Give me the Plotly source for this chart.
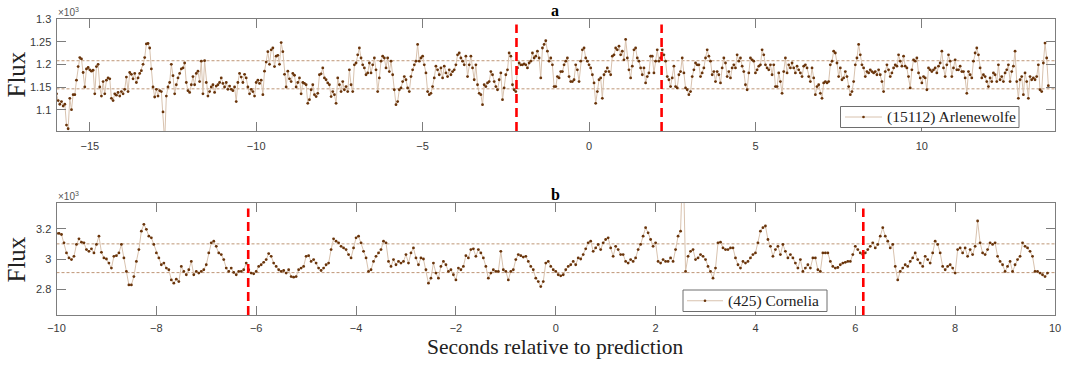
import numpy as np
import plotly.graph_objects as go

# ---------------- data (flux counts) ----------------
T0_A = -16.0      # first sample time, panel a (s)
T0_B = -10.0      # first sample time, panel b (s)
DT = 0.05         # sampling step (s)

flux_a_1 = [1135,1120,1112,1118,1108,1112,1066,1058,1125,1100,
            1133,1133,1165,1195,1215,1212,1182,1150,1190,1193,
            1188,1185,1187,1135,1195,1200,1150,1130,1162,1135,
            1165,1170,1168,1125,1120,1135,1132,1138,1130,1140,
            1135,1145,1172,1140,1182,1178,1168,1180,1160,1170,
            1180,1186,1200,1215,1245,1246,1236,1190,1150,1128,
            1145,1130,1142,1140,1095,1030,1130,1150,1160,1200,
            1175,1135,1155,1170,1180,1190,1192,1203,1160,1142,
            1138,1155,1173,1155,1180,1185,1162,1207,1135,1208,
            1160,1130,1140,1150,1155,1138,1152,1155,1160,1170,
            1158,1150,1160,1145,1152,1145,1142,1150,1118,1160,
            1180,1172,1160,1178,1170,1150,1135,1145,1140,1130,
            1160,1165,1158,1165,1133,1185,1205,1228,1200,1232,
            1236,1195,1218,1220,1200,1248,1228,1178,1150,1185,
            1168,1162,1180,1176,1150,1160,1170,1135,1160,1158]
flux_a_2 = [1155,1114,1122,1144,1155,1133,1129,1136,1177,1179,
            1192,1170,1166,1159,1155,1129,1140,1133,1114,1170,
            1155,1140,1162,1144,1151,1140,1188,1155,1140,1199,
            1203,1221,1236,1214,1199,1192,1177,1181,1203,1181,
            1199,1214,1188,1140,1170,1207,1218,1214,1192,1214,
            1184,1207,1177,1144,1111,1118,1144,1148,1162,1173,
            1166,1148,1140,1173,1188,1199,1207,1244,1207,1214,
            1218,1199,1181,1140,1133,1136,1151,1170,1196,1188,
            1177,1192,1170,1196,1181,1173,1188,1177,1184,1188,
            1199,1221,1225,1214,1207,1199,1218,1173,1199,1218,
            1192,1166,1199,1155,1136,1133,1111,1155,1151,1159,
            1162,1184,1177,1162,1151,1144,1166,1181,1122,1148,
            1177,1188,1225,1218,1155,1144,1140,1192,1203,1199,
            1199,1201,1199,1192,1203,1207,1225,1214,1218,1229,
            1214,1170,1236,1244,1252,1229,1207,1214,1199,1151]
flux_a_3 = [1151,1173,1170,1184,1184,1199,1207,1214,1173,1162,
            1162,1166,1199,1188,1162,1207,1232,1236,1214,1207,
            1199,1192,1177,1159,1114,1140,1166,1170,1125,1177,
            1184,1192,1184,1177,1218,1221,1236,1232,1240,1221,
            1229,1210,1255,1214,1188,1170,1196,1232,1236,1214,
            1207,1192,1177,1192,1159,1173,1181,1218,1218,1181,
            1207,1232,1207,1214,1232,1221,1207,1173,1166,1151,
            1170,1196,1151,1148,1177,1184,1214,1181,1148,1144,
            1133,1140,1173,1188,1203,1199,1199,1173,1181,1192,
            1214,1232,1218,1207,1177,1184,1162,1184,1177,1159,
            1192,1214,1203,1173,1184,1170,1192,1199,1192,1221,
            1207,1214,1196,1184,1155,1144,1181,1214,1210,1207,
            1181,1188,1196,1199,1232,1221,1199,1192,1188,1199,
            1177,1199,1151,1151,1181,1162,1136,1184,1214,1181,
            1199,1192,1203,1192,1181,1196,1188,1181,1173,1196]
flux_a_4 = [1199,1192,1173,1162,1192,1170,1133,1151,1155,1136,
            1125,1159,1162,1159,1162,1199,1207,1229,1225,1203,
            1173,1192,1166,1170,1184,1173,1151,1133,1140,1162,
            1199,1214,1244,1221,1199,1192,1173,1184,1181,1188,
            1184,1181,1184,1177,1188,1177,1162,1140,1184,1199,
            1188,1173,1181,1192,1199,1196,1221,1207,1196,1218,
            1196,1192,1173,1148,1188,1210,1207,1214,1181,1170,
            1159,1173,1170,1144,1192,1188,1184,1188,1192,1181,
            1196,1203,1229,1192,1173,1199,1221,1207,1173,1192,
            1210,1188,1188,1196,1184,1184,1170,1136,1184,1177,
            1170,1207,1225,1236,1221,1192,1170,1177,1173,1162,
            1151,1170,1162,1181,1177,1162,1199,1166,1173,1162,
            1181,1188,1199,1162,1184,1196,1229,1162,1125,1166,
            1173,1133,1181,1162,1125,1173,1166,1170,1166,1173,
            1199,1144,1140,1203,1247,1214,1153]

flux_b_1 = [3169,3169,3162,3107,3040,3007,2996,3018,3096,3133,
            3111,3107,3062,3051,3067,3040,3096,3151,3044,3007,
            3000,2973,2940,3018,3022,3040,3096,3007,2918,2829,
            2829,2884,2984,3062,3184,3229,3196,3151,3140,3096,
            3040,3007,2962,2973,2940,2929,2862,2840,2867,2851,
            2951,2918,2896,2929,2984,2896,2918,2907,2918,2929,
            2962,3040,3107,3118,3084,3040,3029,2996,2940,2918,
            2940,2911,2896,2918,2918,2929,2973,2929,2907,2902,
            2918,2951,2962,2978,2996,3036,3018,2973,2951,2929,
            2918,2924,2907,2929,2884,2880,2884,2929,2940,2951,
            3018,3022,2984,2996,2973,2940,2924,2940,2962,2973,
            3062,3133,3118,3107,3084,3073,3062,3029,3007,3073,
            3140,3151,3107,3051,3007,2918,2929,2984,3018,3040,
            3062,3118,3107,2984,2951,2996,2962,2984,2973,2984,
            3029,2973,3040,3073,3007,2962,3007,3000,2929,2840,
            2873,2973,2907,2873,2951,2984,2962,2918,2929,2896,
            2862,2940,2929,2951,3022,3007,3062,3067,3018,3062,
            3040,3007,2951,2873,2907,2929,2918,2918,3051,2929,
            2918,2862,2918,2929,2996,3029,3022,3013,3018,2984,
            2951,2929,2873,2851,2818,2851,2973,2984,2951,2929]
flux_b_2 = [2918,2896,2889,2896,2929,2951,2962,2984,2962,3007,
            3000,3029,3067,3107,3118,3051,3073,3096,3062,3107,
            3129,3140,3073,3018,3084,3062,3029,3029,2984,2973,
            2996,2984,3007,3062,3096,3151,3207,3173,3129,3084,
            3107,2984,2973,2996,2984,2984,3007,2984,3062,3151,
            3184,3700,2918,3018,3051,3062,2996,3007,3029,3018,
            2996,2951,2918,2873,2940,3107,3111,3073,3062,3062,
            3073,3073,3007,2962,2940,2984,2973,2984,3007,3029,
            3040,3107,3184,3207,3218,3129,3084,3018,3062,3084,
            3029,3096,3051,3007,3029,3007,2973,2940,2996,2918,
            2940,2962,2940,3007,3007,2929,2918,3040,3040,3040,
            2984,2951,2940,2944,2962,2973,2978,2984,2984,3029,
            3084,3062,3040,3029,3040,3062,3084,3107,3073,3096,
            3151,3207,3151,3118,3073,3096,2951,2862,2918,2940,
            2962,2951,2984,3007,3040,2996,2973,2951,3018,2996,
            2973,3040,3118,3096,3040,2951,2929,2951,2962,2940,
            2907,3062,3073,3040,3073,3018,3062,3029,3084,3251,
            3107,3040,3029,3062,3107,3096,3107,3018,2984,2962,
            2918,2951,2984,2918,2962,2996,3018,3107,3084,3073,
            3051,3018,2918,2918,2907,2896,2884,2907]

band_a = [1146, 1208]          # horizontal reference levels, panel a
band_b = [2910, 3100]          # horizontal reference levels, panel b
events_a = [-2.18, 2.18]       # red dashed markers, panel a (s)
events_b = [-6.16, 6.16]       # red dashed markers, panel b (s)

xticks_a = [-15, -10, -5, 0, 5, 10]
yticks_a = [1.1, 1.15, 1.2, 1.25, 1.3]
xticks_b = [-10, -8, -6, -4, -2, 0, 2, 4, 6, 8, 10]
yticks_b = [2.8, 3, 3.2]
xrange_a, yrange_a = [-16, 14], [1.053, 1.3]
xrange_b, yrange_b = [-10, 10], [2.63, 3.37]
name_a = "(15112) Arlenewolfe"
name_b = "(425) Cornelia"

flux_a = np.array(flux_a_1 + flux_a_2 + flux_a_3 + flux_a_4) / 1000.0
flux_b = np.array(flux_b_1 + flux_b_2) / 1000.0
t_a = T0_A + DT * np.arange(len(flux_a))
t_b = T0_B + DT * np.arange(len(flux_b))

# ---------------- styling ----------------
W, H = 1082, 377
LINE_C = "rgb(216,194,174)"
MARK_C = "rgb(105,52,10)"
BAND_C = "rgb(190,150,118)"
AX_C = "rgb(125,125,125)"
TICK_FONT = dict(family="Liberation Sans, Arial, sans-serif", size=11, color="#3a3a3a")
SERIF = "Liberation Serif, Times New Roman, serif"

def px(x):
    return x / W

def py(y):
    return 1 - y / H

fig = go.Figure()

fig.add_trace(go.Scatter(
    x=t_a, y=flux_a, mode="lines+markers", name=name_a,
    line=dict(color=LINE_C, width=1),
    marker=dict(color=MARK_C, size=2.8),
    xaxis="x", yaxis="y", showlegend=False))
fig.add_trace(go.Scatter(
    x=t_b, y=flux_b, mode="lines+markers", name=name_b,
    line=dict(color=LINE_C, width=1),
    marker=dict(color=MARK_C, size=2.8),
    xaxis="x2", yaxis="y2", showlegend=False))

# red dashed event markers
for ev in events_a:
    fig.add_trace(go.Scatter(x=[ev, ev], y=[yrange_a[0], 1.288], mode="lines",
                             line=dict(color="rgb(255,0,0)", width=2.6, dash="9px,5px"),
                             showlegend=False, hoverinfo="skip", xaxis="x", yaxis="y"))
for ev in events_b:
    fig.add_trace(go.Scatter(x=[ev, ev], y=[yrange_b[0], 3.333], mode="lines",
                             line=dict(color="rgb(255,0,0)", width=2.6, dash="9px,5px"),
                             showlegend=False, hoverinfo="skip", xaxis="x2", yaxis="y2"))

shapes = []
for lv in band_a:
    shapes.append(dict(type="line", xref="x domain", yref="y", x0=0, x1=1,
                       y0=lv / 1000.0, y1=lv / 1000.0, layer="below",
                       line=dict(color=BAND_C, width=1, dash="3px,2px")))
for lv in band_b:
    shapes.append(dict(type="line", xref="x2 domain", yref="y2", x0=0, x1=1,
                       y0=lv / 1000.0, y1=lv / 1000.0, layer="below",
                       line=dict(color=BAND_C, width=1, dash="3px,2px")))

# hand-built legend boxes (key only)
def legend_box(x0, x1, y0, y1, lx0, lx1, label, tx):
    yc = (y0 + y1) / 2
    shapes.append(dict(type="rect", xref="paper", yref="paper",
                       x0=px(x0), x1=px(x1), y0=py(y1), y1=py(y0),
                       fillcolor="white", line=dict(color="rgb(110,110,110)", width=1)))
    shapes.append(dict(type="line", xref="paper", yref="paper",
                       x0=px(lx0), x1=px(lx1), y0=py(yc), y1=py(yc),
                       line=dict(color=LINE_C, width=1)))
    xm = (lx0 + lx1) / 2
    shapes.append(dict(type="circle", xref="paper", yref="paper",
                       x0=px(xm - 1.3), x1=px(xm + 1.3), y0=py(yc + 1.3), y1=py(yc - 1.3),
                       fillcolor=MARK_C, line=dict(color=MARK_C, width=0)))
    return dict(text=label, x=px(tx), y=py(yc), xref="paper", yref="paper",
                xanchor="left", yanchor="middle", showarrow=False,
                font=dict(family=SERIF, size=15.5, color="#222"))

leg_a = legend_box(840.5, 1019, 106.5, 127.5, 845, 882, name_a, 885)
leg_b = legend_box(683, 827, 290, 311.5, 687, 723, name_b, 726)

axis_common = dict(showline=True, linecolor=AX_C, linewidth=1, mirror="allticks",
                   ticks="inside", ticklen=9, tickcolor=AX_C, tickwidth=1,
                   showgrid=False, zeroline=False, tickfont=TICK_FONT, automargin=False)

xdom = [px(56.5), px(1055)]
fig.update_layout(
    width=W, height=H,
    margin=dict(l=0, r=0, t=0, b=0),
    paper_bgcolor="white", plot_bgcolor="white",
    xaxis=dict(domain=xdom, anchor="y", range=xrange_a, tickvals=xticks_a,
               ticklabelstandoff=5, **axis_common),
    yaxis=dict(domain=[py(131), py(19)], anchor="x", range=yrange_a, tickvals=yticks_a,
               ticktext=[f"{v:g}" for v in yticks_a], ticklabelstandoff=2, **axis_common),
    xaxis2=dict(domain=xdom, anchor="y2", range=xrange_b, tickvals=xticks_b,
                ticklabelstandoff=3, **axis_common),
    yaxis2=dict(domain=[py(315), py(203)], anchor="x2", range=yrange_b, tickvals=yticks_b,
                ticktext=[f"{v:g}" for v in yticks_b], ticklabelstandoff=2, **axis_common),
    shapes=shapes,
    showlegend=False,
)

def note(text, x, y, size, family=SERIF, color="#222", angle=0, xanchor="center"):
    return dict(text=text, x=px(x), y=py(y), xref="paper", yref="paper",
                xanchor=xanchor, yanchor="middle", textangle=angle, showarrow=False,
                font=dict(family=family, size=size, color=color))

SANS = "Liberation Sans, Arial, sans-serif"
annos = [
    note("<b>a</b>", 555, 10, 16, color="black"),
    note("<b>b</b>", 555, 194, 16, color="black"),
    note("×10<sup>3</sup>", 56, 12, 10, family=SANS, color="#555", xanchor="left"),
    note("×10<sup>3</sup>", 56, 196, 10, family=SANS, color="#555", xanchor="left"),
    note("Flux", 15.5, 74, 25, angle=-90),
    note("Flux", 15.5, 259, 25, angle=-90),
    note("Seconds relative to prediction", 555, 347, 21.5),
    leg_a, leg_b,
]
fig.update_layout(annotations=annos)

fig.write_html("out.html", config={"displayModeBar": False},
               post_script="document.body.style.margin='0px';")
